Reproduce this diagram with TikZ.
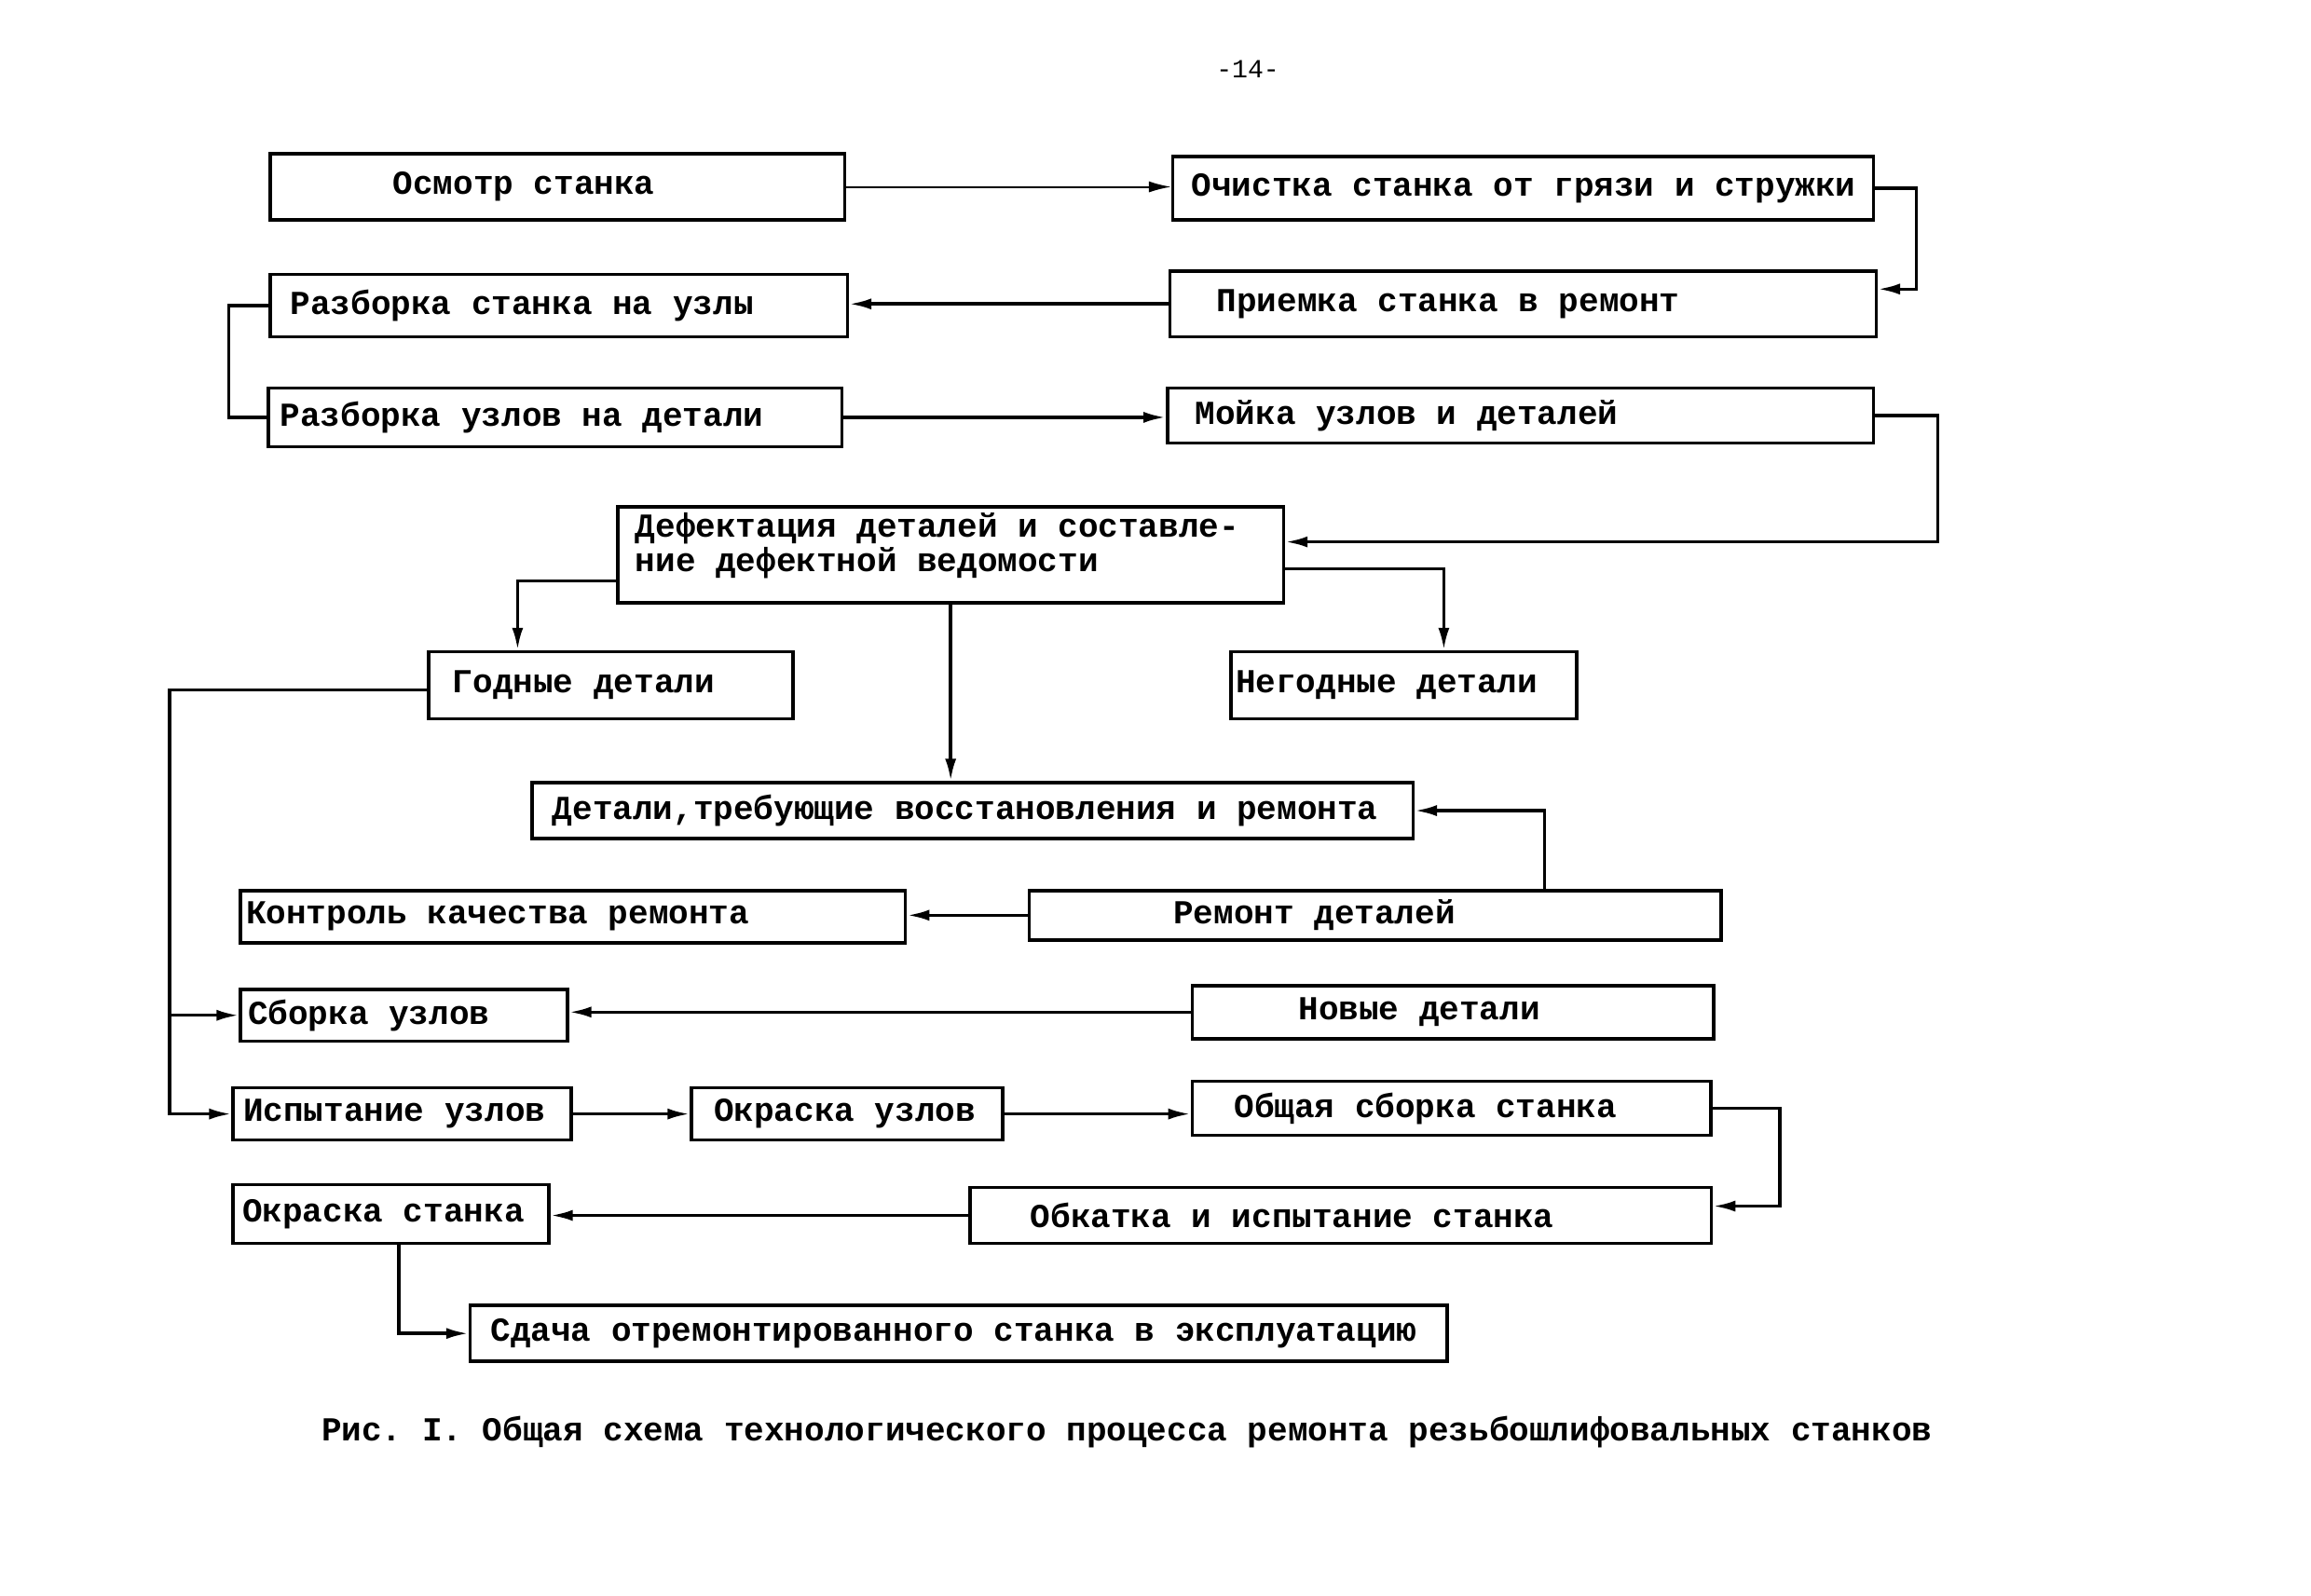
\documentclass[tikz,border=0pt]{standalone}
\usepackage{fontspec}
\newfontfamily\tw{Liberation Mono}
\usetikzlibrary{arrows.meta,calc}
\tikzset{
  box/.style={draw, line width=1pt, anchor=north west, inner xsep=0pt, inner ysep=0pt,
    font=\tw\bfseries\fontsize{10.25pt}{10.5pt}\selectfont},
  conn/.style={line width=1pt, -{Latex[length=0.24cm,width=0.12cm]}},
  plain/.style={line width=1pt},
  thinc/.style={line width=0.6pt, -{Latex[length=0.24cm,width=0.12cm]}},
  lbl/.style={font=\tw\bfseries\fontsize{10.25pt}{10.5pt}\selectfont, inner sep=0pt}
}
\newcommand\bx[6]{\node[box, minimum width=#3, minimum height=#4] (#1) at (#2) {\makebox[#3][l]{\hspace*{#5}#6}};}
\begin{document}
\frenchspacing
\begin{tikzpicture}[x=0.009897cm,y=-0.009897cm]
\fill[white] (0,0) rectangle (2505.8,1729.8);
\useasboundingbox (0,0) rectangle (2505.8,1729.8);

\node[font=\tw\fontsize{8pt}{9pt}\selectfont, inner sep=0pt] (pg) at (1353,75) {-14-};

\bx{o1}{291,165}{6.17cm}{0.71cm}{1.32cm}{Осмотр станка}
\bx{o2}{1270,168}{7.52cm}{0.68cm}{0.20cm}{Очистка станка от грязи и стружки}
\bx{o3}{291,296}{6.20cm}{0.67cm}{0.22cm}{Разборка станка на узлы}
\bx{o4}{1267,292}{7.58cm}{0.71cm}{0.50cm}{Приемка станка в ремонт}
\bx{o5}{289,419}{6.16cm}{0.63cm}{0.13cm}{Разборка узлов на детали}
\bx{o6}{1264,419}{7.58cm}{0.59cm}{0.30cm}{Мойка узлов и деталей}
\node[box, minimum width=7.15cm, minimum height=1.03cm] (o7) at (668,548)
  {\makebox[7.15cm][l]{\vbox{\baselineskip=0.37cm
     \hbox{\hspace*{0.19cm}Дефектация деталей и составле-}
     \hbox{\hspace*{0.19cm}ние дефектной ведомости}\vskip0.2cm}}};
\bx{o8}{463,705}{3.91cm}{0.72cm}{0.26cm}{Годные детали}
\bx{o9}{1333,705}{3.71cm}{0.72cm}{0.05cm}{Негодные детали}
\bx{o10}{575,847}{9.46cm}{0.60cm}{0.22cm}{Детали,требующие восстановления и ремонта}
\bx{o11}{259,964}{7.14cm}{0.56cm}{0.06cm}{Контроль качества ремонта}
\bx{o12}{1114,964}{7.43cm}{0.53cm}{1.55cm}{Ремонт деталей}
\bx{o13}{259,1071}{3.51cm}{0.56cm}{0.08cm}{Сборка узлов}
\bx{o14}{1291,1067}{5.60cm}{0.57cm}{1.14cm}{Новые детали}
\bx{o15}{251,1178}{3.63cm}{0.56cm}{0.11cm}{Испытание узлов}
\bx{o16}{748,1178}{3.34cm}{0.56cm}{0.24cm}{Окраска узлов}
\bx{o17}{1291,1171}{5.57cm}{0.58cm}{0.45cm}{Общая сборка станка}
\bx{o18}{251,1283}{3.39cm}{0.63cm}{0.10cm}{Окраска станка}
\bx{o19}{1050,1286}{7.96cm}{0.60cm}{0.65cm}{Обкатка и испытание станка}
\bx{o20}{508,1414}{10.49cm}{0.60cm}{0.22cm}{Сдача отремонтированного станка в эксплуатацию}

\node[lbl, anchor=west] (cap) at (348,1553) {Рис. I. Общая схема технологического процесса ремонта резьбошлифовальных станков};

% connectors
\draw[thinc] (o1.east) -- (o1.east -| o2.west);
\draw[conn] (o2.east) -- ++(45,0) |- ([yshift=0.16cm]o4.east);
\draw[conn] (o4.west) -- (o4.west -| o3.east);
\draw[plain] (o3.west) -- ++(-43,0) |- (o5.west);
\draw[conn] (o5.east) -- (o5.east -| o6.west);
\draw[conn] (o6.east) -- ++(68,0) |- ([yshift=0.14cm]o7.east);
\draw[conn] ([yshift=-0.15cm]o7.east) -| ([xshift=0.43cm]o9.north);
\draw[conn] ([yshift=-0.28cm]o7.west) -| ([xshift=-1.0cm]o8.north);
\draw[conn] (o7.south) -- (o7.south |- o10.north);
\draw[conn] ([xshift=1.82cm]o12.north) |- (o10.east);
\draw[conn] (o12.west) -- (o12.west -| o11.east);
\draw[conn] ([yshift=-0.05cm]o8.west) -- ++(-279,0) coordinate (j) |- (o15.west);
\draw[conn] (j |- o13.west) -- (o13.west);
\draw[conn] (o14.west) -- (o14.west -| o13.east);
\draw[conn] (o15.east) -- (o15.east -| o16.west);
\draw[conn] (o16.east) -- (o16.east -| o17.west);
\draw[conn] (o17.east) -- ++(73,0) |- ([yshift=0.1cm]o19.east);
\draw[conn] (o19.west) -- (o19.west -| o18.east);
\draw[conn] ([xshift=0.085cm]o18.south) |- (o20.west);
\end{tikzpicture}
\end{document}
